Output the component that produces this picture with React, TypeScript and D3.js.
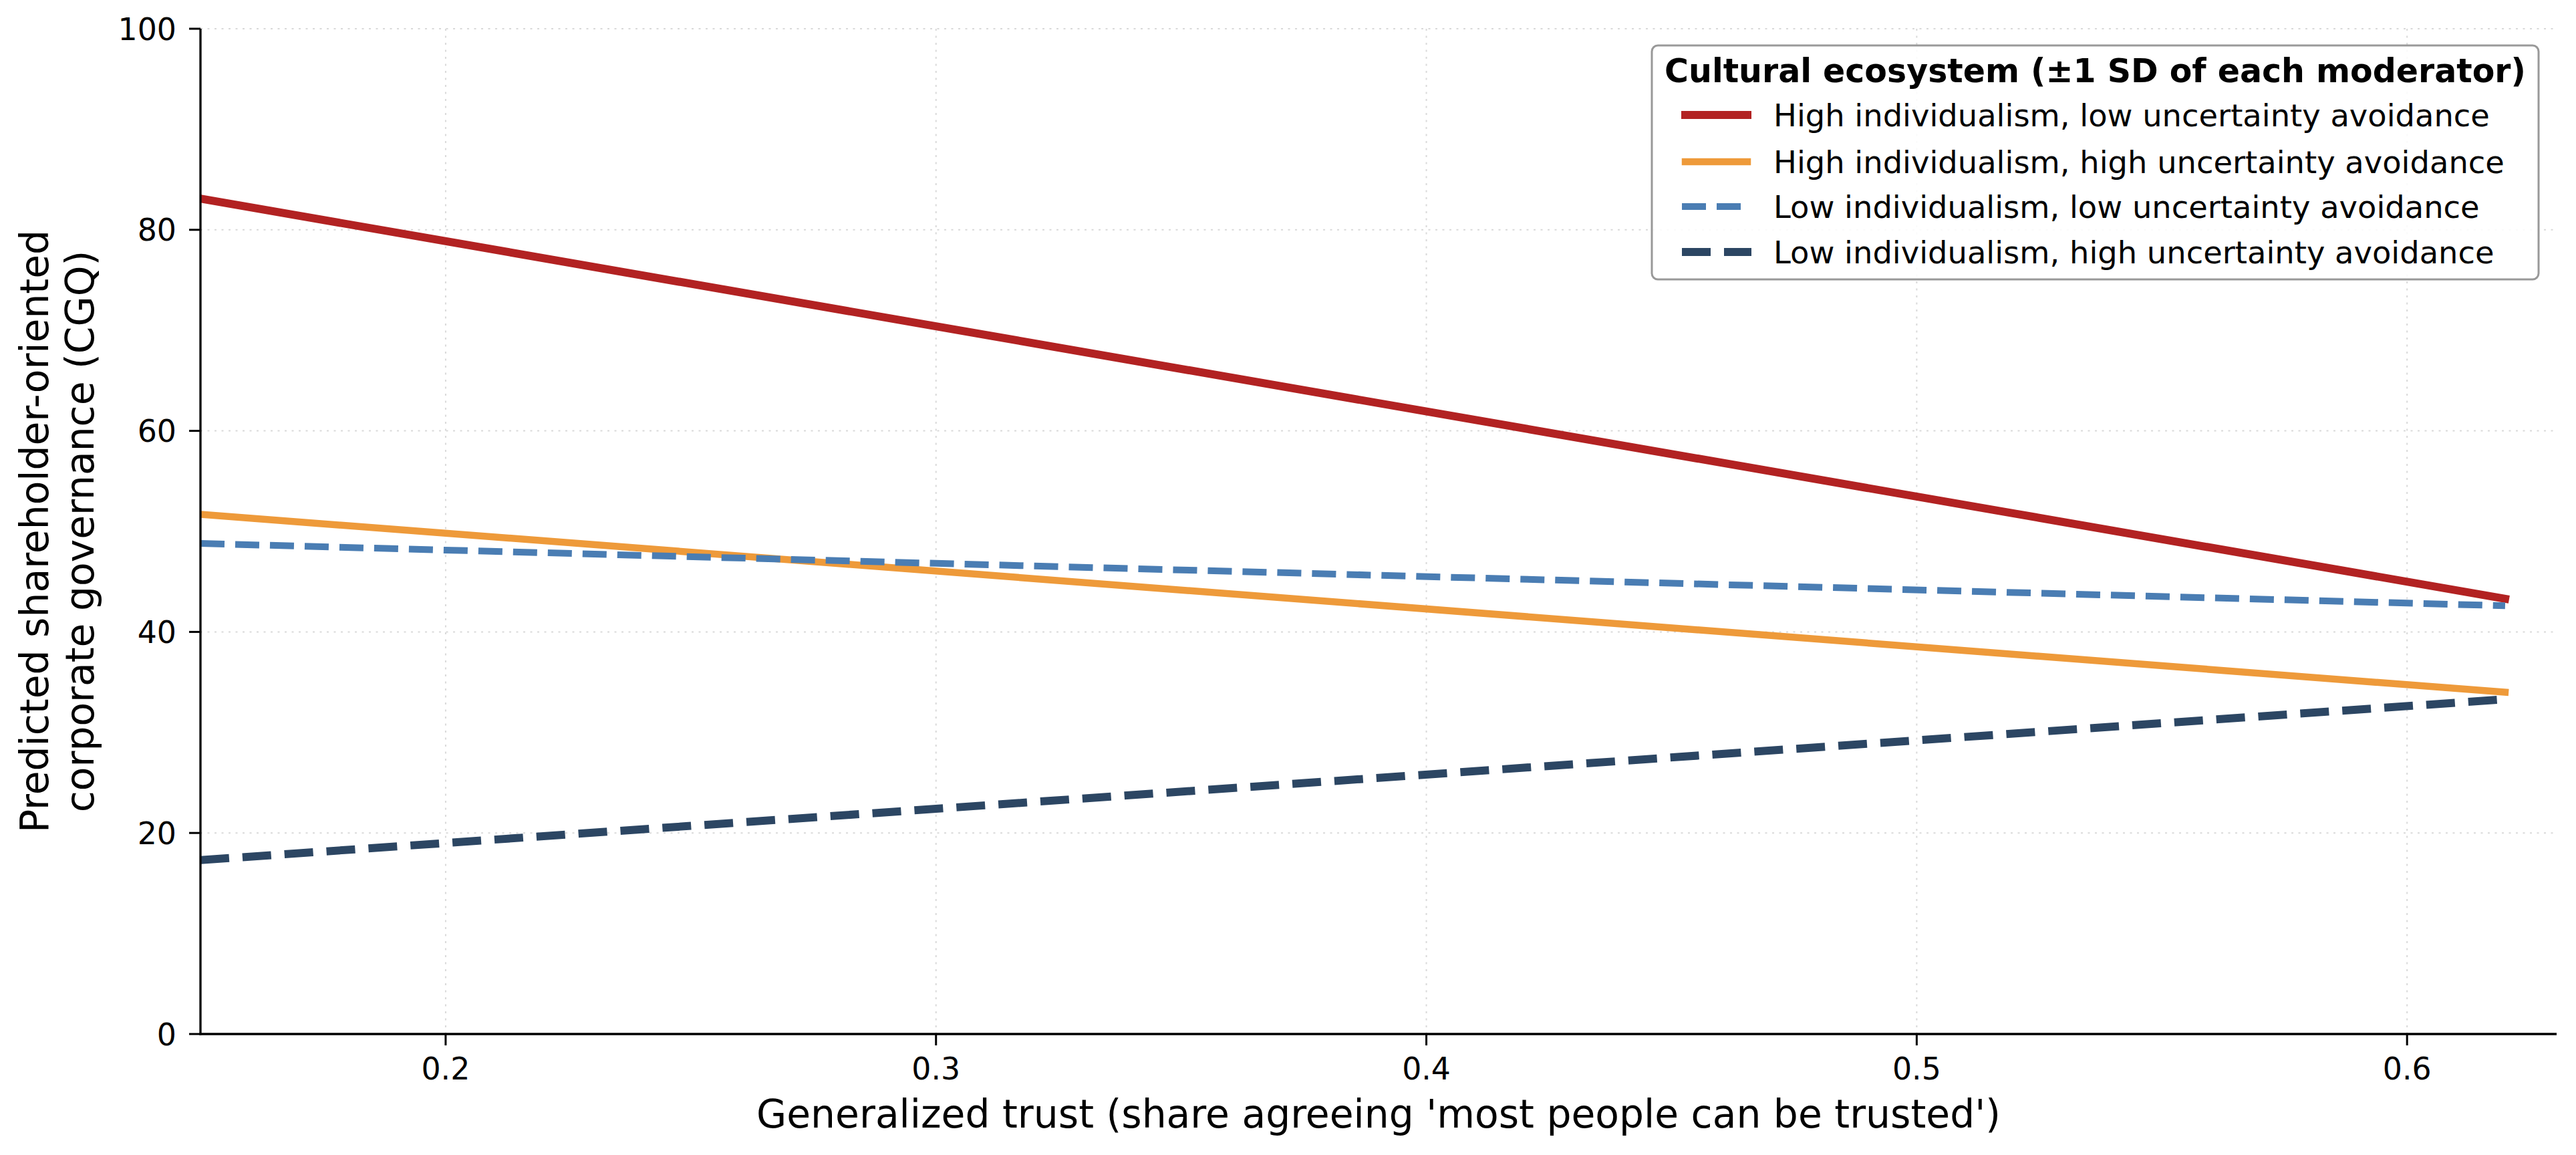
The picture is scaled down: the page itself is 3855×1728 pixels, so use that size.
import React from "react";
import * as d3 from "d3";

// ---- data ----
const trustRange: number[] = [0.15, 0.62];
const seriesLabels: string[] = [
  "High individualism, low uncertainty avoidance",
  "High individualism, high uncertainty avoidance",
  "Low individualism, low uncertainty avoidance",
  "Low individualism, high uncertainty avoidance",
];
const hiIndLoUA: number[] = [83.1, 43.3];
const hiIndHiUA: number[] = [51.7, 34.0];
const loIndLoUA: number[] = [48.8, 42.6];
const loIndHiUA: number[] = [17.3, 33.3];
const xTicks: number[] = [0.2, 0.3, 0.4, 0.5, 0.6];
const yTicks: number[] = [0, 20, 40, 60, 80, 100];

const legendTitle = "Cultural ecosystem (±1 SD of each moderator)";
const xLabel = "Generalized trust (share agreeing 'most people can be trusted')";
const yLabelLines = ["Predicted shareholder-oriented", "corporate governance (CGQ)"];

const styles = [
  { color: "#b22222", width: 12, dash: null as string | null },
  { color: "#ee9a3a", width: 10.5, dash: null as string | null },
  { color: "#4a7db3", width: 10, dash: "36 16" },
  { color: "#2c4663", width: 12, dash: "43 20" },
];

const W = 3855;
const H = 1728;
const L = 300, R = 3826, T = 43, B = 1547;
const FONT = "'DejaVu Sans', sans-serif";

export default function App() {
  const x = d3.scaleLinear().domain([0.15, 0.6305]).range([L, R]);
  const y = d3.scaleLinear().domain([0, 100]).range([B, T]);
  const allSeries = [hiIndLoUA, hiIndHiUA, loIndLoUA, loIndHiUA];
  const line = d3
    .line<[number, number]>()
    .x((d) => x(d[0]))
    .y((d) => y(d[1]));

  const legX = 2472, legY = 68, legW = 1327, legH = 350;
  const rowY = [172, 242, 309, 377];

  return (
    <div>
      <style>{`body{margin:0;}`}</style>
      <svg width={W} height={H} viewBox={`0 0 ${W} ${H}`} style={{ display: "block", background: "#fff" }}>
        <defs>
          <clipPath id="plotClip">
            <rect x={L} y={T - 20} width={R - L} height={B - T + 20} />
          </clipPath>
        </defs>
        <rect x={0} y={0} width={W} height={H} fill="#fff" />
        {/* grid */}
        <g stroke="#d9d9d9" strokeWidth={2} strokeDasharray="3 7.5">
          {yTicks.map((t) => (
            <line key={"gy" + t} x1={L} x2={R} y1={y(t)} y2={y(t)} />
          ))}
          {xTicks.map((t) => (
            <line key={"gx" + t} x1={x(t)} x2={x(t)} y1={T} y2={B} />
          ))}
        </g>
        {/* series */}
        <g clipPath="url(#plotClip)">
          {allSeries.map((vals, i) => {
            const pts: [number, number][] = trustRange.map((tv, j) => [tv, vals[j]]);
            const s = styles[i];
            return (
              <path
                key={"s" + i}
                d={line(pts) || ""}
                fill="none"
                stroke={s.color}
                strokeWidth={s.width}
                strokeDasharray={s.dash || undefined}
                strokeLinecap={s.dash ? "butt" : "square"}
              />
            );
          })}
        </g>
        {/* axes */}
        <g stroke="#000" strokeWidth={3.3}>
          <line x1={L} x2={L} y1={T} y2={B + 1.6} />
          <line x1={L - 1.6} x2={R} y1={B} y2={B} />
          {yTicks.map((t) => (
            <line key={"ty" + t} x1={L - 17} x2={L} y1={y(t)} y2={y(t)} strokeWidth={3} />
          ))}
          {xTicks.map((t) => (
            <line key={"tx" + t} x1={x(t)} x2={x(t)} y1={B} y2={B + 17} strokeWidth={3} />
          ))}
        </g>
        <g fontFamily={FONT} fontSize={45.8} fill="#000">
          {yTicks.map((t) => (
            <text key={"ly" + t} x={264} y={y(t) + 16.5} textAnchor="end">
              {String(t)}
            </text>
          ))}
          {xTicks.map((t) => (
            <text key={"lx" + t} x={x(t)} y={1615} textAnchor="middle">
              {d3.format(".1f")(t)}
            </text>
          ))}
        </g>
        <text x={(L + R) / 2} y={1687} textAnchor="middle" fontFamily={FONT} fontSize={58.3} fill="#000">
          {xLabel}
        </text>
        <g transform={`translate(0, ${(T + B) / 2}) rotate(-90)`}>
          <text textAnchor="middle" fontFamily={FONT} fontSize={58.3} fill="#000">
            <tspan x={0} y={72}>{yLabelLines[0]}</tspan>
            <tspan x={0} y={140}>{yLabelLines[1]}</tspan>
          </text>
        </g>
        {/* legend */}
        <rect x={legX} y={legY} width={legW} height={legH} rx={9} ry={9} fill="#fff" fillOpacity={0.85} stroke="#999" strokeWidth={3} />
        <text x={legX + legW / 2} y={123} textAnchor="middle" fontFamily={FONT} fontWeight="bold" fontSize={49} fill="#000">
          {legendTitle}
        </text>
        {seriesLabels.map((lab, i) => {
          const s = styles[i];
          return (
            <g key={"lg" + i}>
              <line
                x1={s.dash ? 2517 : 2522}
                x2={s.dash ? 2621 : 2615}
                y1={rowY[i]}
                y2={rowY[i]}
                stroke={s.color}
                strokeWidth={s.width}
                strokeDasharray={s.dash || undefined}
                strokeLinecap={s.dash ? "butt" : "square"}
              />
              <text x={2654} y={rowY[i] + 16.8} fontFamily={FONT} fontSize={46.4} fill="#000">
                {lab}
              </text>
            </g>
          );
        })}
      </svg>
    </div>
  );
}
